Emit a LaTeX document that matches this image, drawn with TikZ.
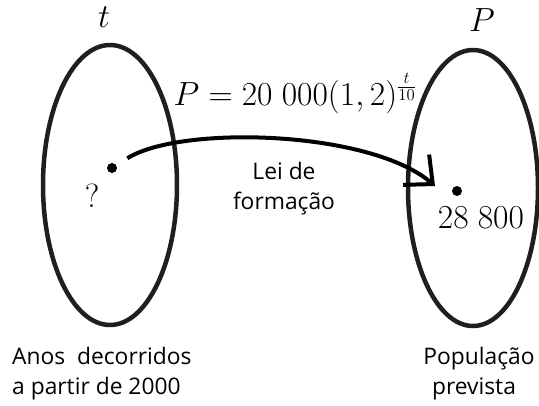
\RequirePackage{fix-cm}
\documentclass[tikz,border=0pt]{standalone}
\usepackage{fontspec}
\newfontfamily\osans{Open Sans}
\usetikzlibrary{arrows.meta,shapes.geometric}
\begin{document}
\begin{tikzpicture}[x=1pt,y=1pt,
  setoval/.style={draw=black!88, line width=4.5pt, ellipse, inner sep=0pt},
  dotpt/.style={circle, fill=black, inner sep=0pt, minimum size=10pt},
  mathlbl/.style={font=\fontsize{33.5}{40}\selectfont, inner sep=0pt},
  sanslbl/.style={font=\osans\fontsize{22.8}{30}\selectfont, inner sep=0pt},
  arr/.style={line width=4pt, -{Straight Barb[length=22pt,width=40pt]}}]
\useasboundingbox (0,0) rectangle (539,-405);
\node[setoval, minimum width=134pt, minimum height=280pt] (A) at (110,-185) {};
\node[setoval, minimum width=130pt, minimum height=276pt] (B) at (473,-188) {};
\node[mathlbl, anchor=base] (tl) at (104,-27) {$t$};
\node[mathlbl, anchor=base] (pl) at (482,-31) {$P$};
\node[dotpt] (a) at (112,-168) {};
\node[dotpt] (b) at (457,-191) {};
\node[mathlbl, anchor=base] (q) at (92,-207) {$?$};
\node[mathlbl, anchor=base] (v) at (481,-228) {$28\;800$};
\node[mathlbl, anchor=base] (f) at (295,-105) {$P = 20\;000(1,2)^{\frac{t}{10}}$};
\node[sanslbl, align=center] (law) at (284,-189) {Lei de\\formação};
\node[sanslbl, align=left, anchor=west] (da) at (12,-374) {Anos\ \ decorridos\\a partir de 2000};
\node[sanslbl, align=center] (db) at (474,-374) {\hspace*{10pt}População\\prevista};
\coordinate (e) at (435,-186);
\draw[arr, shorten <=13pt] (a) .. controls (180,-125) and (370,-130) .. (e);
\end{tikzpicture}
\end{document}
